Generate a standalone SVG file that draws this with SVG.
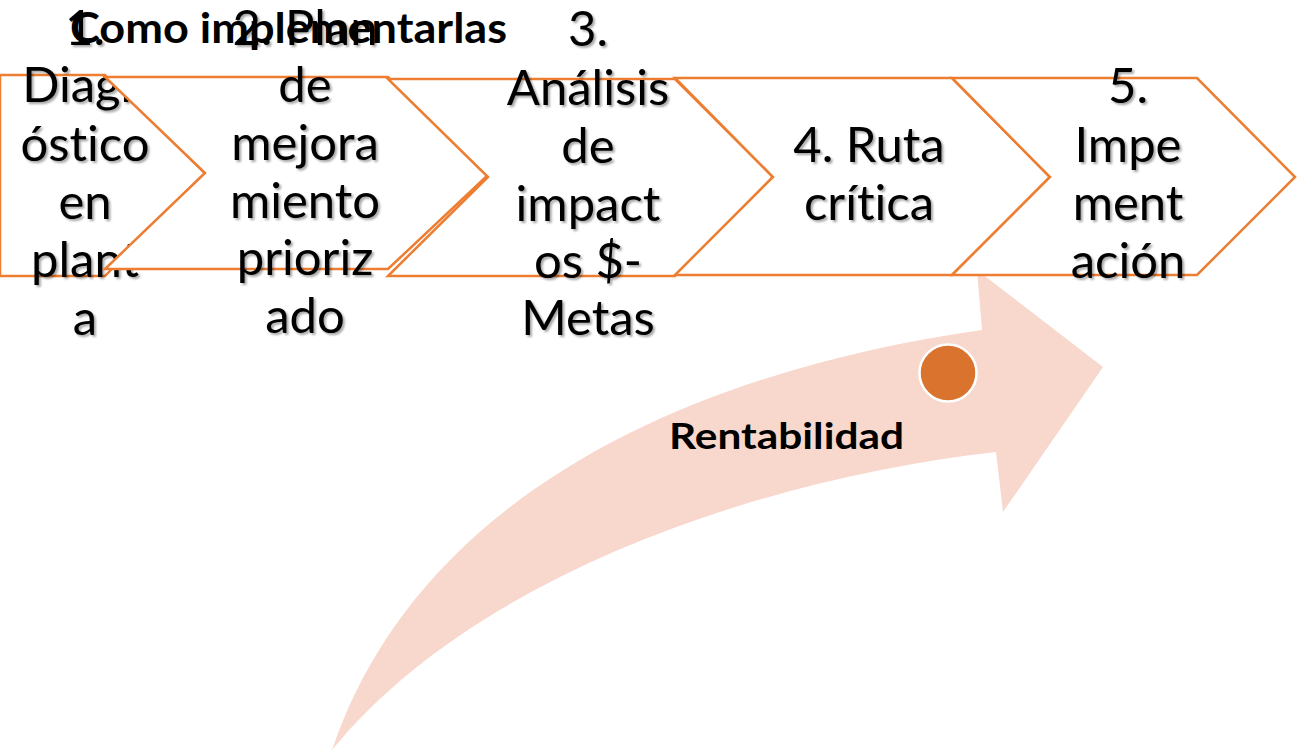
<svg xmlns="http://www.w3.org/2000/svg" width="1299" height="753" viewBox="0 0 1299 753">
<defs>
<style>
.step{fill:#fff;stroke:#ED7D31;stroke-width:2.5;stroke-linejoin:miter}
.lbl{font-family:Lato,"Liberation Sans",sans-serif;font-size:49px;fill:#000;text-anchor:middle;font-variant-ligatures:none;filter:url(#sh)}
.bold{font-family:Lato,"Liberation Sans",sans-serif;font-weight:bold;fill:#000;font-variant-ligatures:none}
</style>
<filter id="sh" x="-10%" y="-10%" width="130%" height="140%">
<feDropShadow dx="2" dy="2" stdDeviation="1" flood-color="#000" flood-opacity="0.35"/>
</filter>
</defs>
<rect width="1299" height="753" fill="#fff"/>
<g id="arrow">
<path d="M332,750 C420,490 700,370 982,330 L977,270 L1103,367 L1003,512 L996,452 C750,480 470,580 332,750 Z" fill="#F8D8CC"/>
<circle cx="948" cy="373" r="28.5" fill="#D9732E" stroke="#fff" stroke-width="2.5"/>
<text class="bold" x="669" y="449" font-size="37" textLength="235" lengthAdjust="spacingAndGlyphs">Rentabilidad</text>
</g>
<g id="connectors"></g>
<g id="step1">
<path class="step" d="M0,75 L105,75 L205,173 L105,276 L0,276 Z"/>
<text class="lbl"><tspan x="85" y="45">1.</tspan><tspan x="85" y="102">Diagn</tspan><tspan x="85" y="161">óstico</tspan><tspan x="85" y="219">en</tspan><tspan x="85" y="277">plant</tspan><tspan x="85" y="335">a</tspan></text>
</g>
<g id="step2">
<path class="step" d="M105,77 L388,77 L488,175 L388,269 L105,269 L205,173 Z"/>
<text class="lbl"><tspan x="305" y="45">2. Plan</tspan><tspan x="305" y="102">de</tspan><tspan x="305" y="160">mejora</tspan><tspan x="305" y="218">miento</tspan><tspan x="305" y="275">prioriz</tspan><tspan x="305" y="333">ado</tspan></text>
</g>
<g id="step3">
<path class="step" d="M388,79 L675,79 L773,177 L675,276 L388,276 L488,177 Z"/>
<text class="lbl"><tspan x="588" y="46">3.</tspan><tspan x="588" y="105">Análisis</tspan><tspan x="588" y="163">de</tspan><tspan x="588" y="221">impact</tspan><tspan x="588" y="278">os $-</tspan><tspan x="588" y="335">Metas</tspan></text>
</g>
<g id="step4">
<path class="step" d="M675,78 L952,78 L1050,177 L952,275 L675,275 L773,177 Z"/>
<text class="lbl"><tspan x="869" y="162">4. Ruta</tspan><tspan x="869" y="220">crítica</tspan></text>
</g>
<g id="step5">
<path class="step" d="M952,78 L1197,78 L1295,177 L1197,275 L952,275 L1050,177 Z"/>
<text class="lbl"><tspan x="1128" y="103">5.</tspan><tspan x="1128" y="162">Impe</tspan><tspan x="1128" y="220">ment</tspan><tspan x="1128" y="278">ación</tspan></text>
</g>
<g id="title">
<text class="bold" x="70" y="43" font-size="42" textLength="437" lengthAdjust="spacingAndGlyphs">Como implementarlas</text>
</g>
</svg>
